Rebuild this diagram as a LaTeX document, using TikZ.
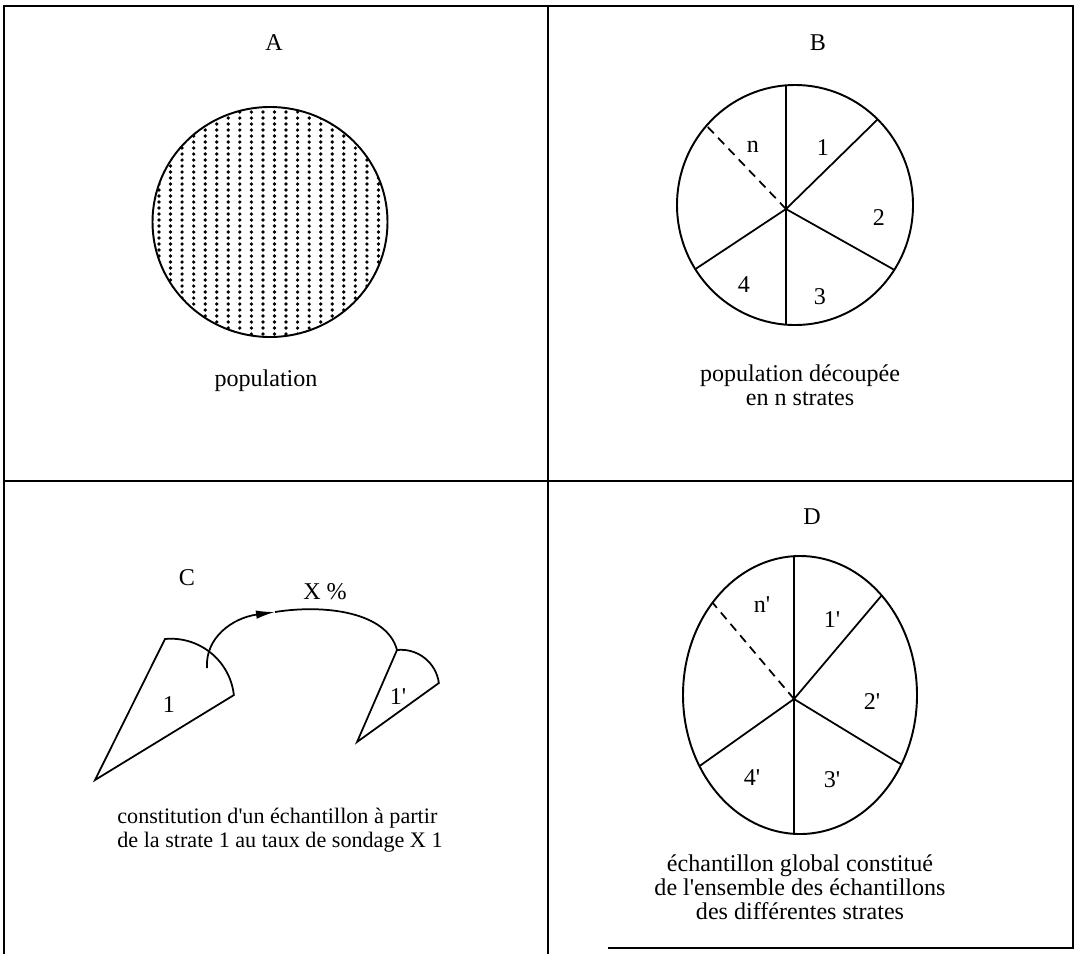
\documentclass[tikz,border=0pt]{standalone}
\usepackage{fontspec}
\setmainfont{Liberation Serif}[Ligatures=TeXOff]
\usetikzlibrary{arrows.meta}

\begin{document}
\begin{tikzpicture}[
  x=0.02cm, y=-0.02cm,
  font=\fontsize{13.7pt}{13.8pt}\selectfont,
  >={Latex[length=3.8mm,width=1.7mm]},
  frame/.style={draw=black, line width=0.9pt},
  outline/.style={draw=black, line width=1.1pt},
  part/.style={draw=black, line width=1pt},
  cut/.style={draw=black, line width=1pt, dash pattern=on 5pt off 3.5pt},
  title/.style={inner sep=0pt},
  num/.style={inner sep=0pt},
  legend/.style={inner sep=0pt, align=center},
]
\useasboundingbox (0,0) rectangle (1077,954);

% frame of the four panels
\coordinate (fa) at (4,954);
\coordinate (fb) at (4,6);
\coordinate (fc) at (1073,6);
\coordinate (fd) at (1073,948);
\coordinate (fe) at (608,948);
\draw[frame] (fa) -- (fb) -- (fc) -- (fd) -- (fe);
\draw[frame] (548,6) -- (548,954);
\draw[frame] (4,481) -- (1073,481);

% A: whole population
\node[title] (tA) at (274,43) {A};
\coordinate (cA) at (270,222);
\begin{scope}
  \clip (cA) ellipse [x radius=117.5, y radius=115];
  \foreach \i in {-1,...,20}
    \foreach \j in {0,...,40}
      \fill (159+11.55*\i, 106+6*\j) circle [radius=1.85];
\end{scope}
\draw[outline] (cA) ellipse [x radius=117.5, y radius=115];
\node[legend] (lA) at (266,381) {population};

% B: population cut into strata
\node[title] (tB) at (818,43) {B};
\coordinate (cB) at (795,205);
\coordinate (hB) at (786,209);
\begin{scope}
  \clip (cB) ellipse [x radius=118, y radius=120];
  \draw[part] (hB) -- ++(0,-200);
  \draw[part] (hB) -- ++(0,200);
  \draw[part] (hB) -- ++(184,-180);
  \draw[part] (hB) -- ++(210,118);
  \draw[part] (hB) -- ++(-178,118);
  \draw[cut] (hB) -- ++(-166,-174);
\end{scope}
\draw[outline] (cB) ellipse [x radius=118, y radius=120];
\node[num] (bn) at (753,147) {n};
\node[num] (b1) at (823,148) {1};
\node[num] (b2) at (879,218) {2};
\node[num] (b3) at (820,297) {3};
\node[num] (b4) at (744,285) {4};
\node[legend] (lB) at (800,385) {population découpée\\en n strates};

% C: sampling one stratum
\node[title] (tC) at (187,578) {C};
\coordinate (s1) at (95,780);
\coordinate (s1top) at (165,639);
\draw[part] (s1) -- (s1top) arc[start angle=-95.4, end angle=-6.3, radius=63.3] -- cycle;
\node[num] (c1) at (169,705) {1};
\coordinate (s2) at (357,742);
\coordinate (s2top) at (397,650);
\draw[part] (s2) -- (s2top) arc[start angle=-96, end angle=-7.5, radius=38.2] -- cycle;
\node[num] (c2) at (398,697) {1'};
\coordinate (from) at (207,668);
\coordinate (tip) at (275,612);
\draw[part,->] (from) .. controls (205,638) and (232,618) .. (tip);
\draw[part] (tip) .. controls (325,604) and (387,612) .. (s2top);
\node[num] (rate) at (325,592) {X \%};
\node[legend, align=left, anchor=west, font=\fontsize{12.6pt}{13.8pt}\selectfont]
  (lC) at (117,830)
  {constitution d'un échantillon à partir\\de la strate 1 au taux de sondage X 1};

% D: global sample
\node[title] (tD) at (812,517) {D};
\coordinate (cD) at (800,695);
\coordinate (hD) at (794,699);
\begin{scope}
  \clip (cD) ellipse [x radius=117, y radius=139];
  \draw[part] (hD) -- ++(0,-200);
  \draw[part] (hD) -- ++(0,200);
  \draw[part] (hD) -- ++(176,-208);
  \draw[part] (hD) -- ++(210,128);
  \draw[part] (hD) -- ++(-186,132);
  \draw[cut] (hD) -- ++(-164,-194);
\end{scope}
\draw[outline] (cD) ellipse [x radius=117, y radius=139];
\node[num] (dn) at (762,605) {n'};
\node[num] (d1) at (832,620) {1'};
\node[num] (d2) at (872,702) {2'};
\node[num] (d3) at (832,780) {3'};
\node[num] (d4) at (752,778) {4'};
\node[legend] (lD) at (800,887)
  {échantillon global constitué\\de l'ensemble des échantillons\\des différentes strates};
\end{tikzpicture}
\end{document}
